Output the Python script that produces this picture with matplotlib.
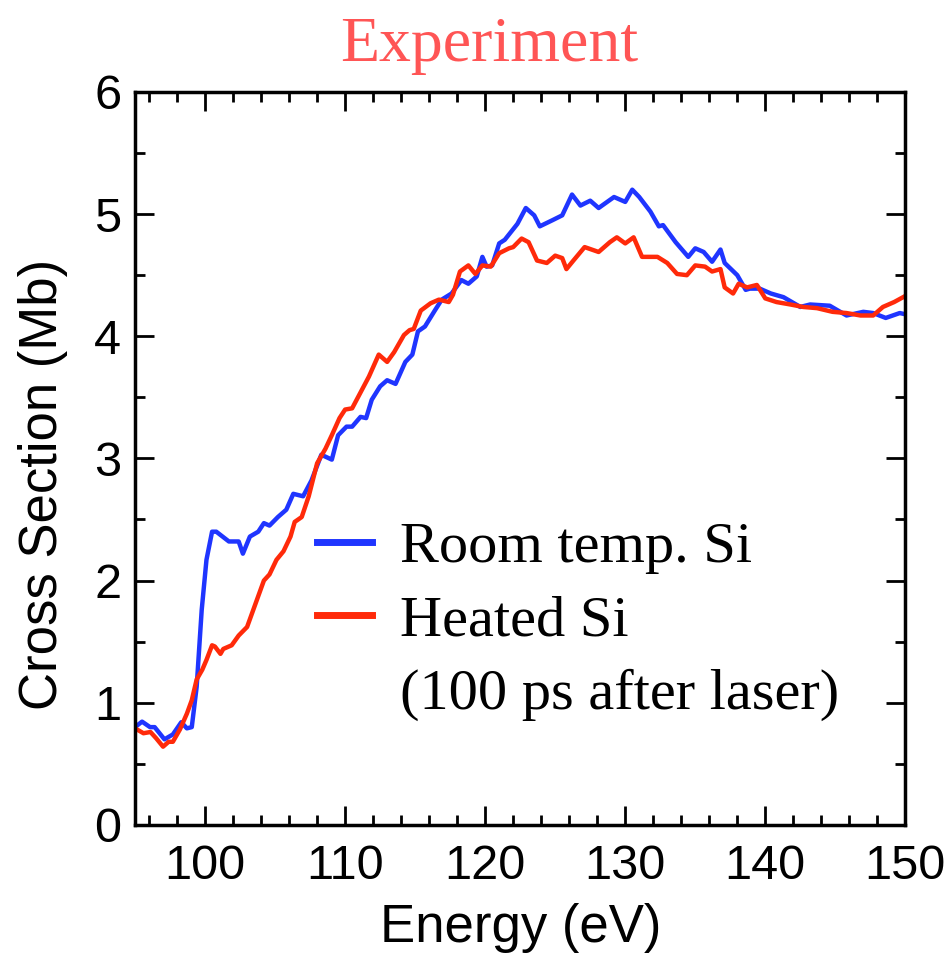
import matplotlib
matplotlib.use("Agg")
import matplotlib.pyplot as plt
from matplotlib.lines import Line2D
from matplotlib.ticker import MultipleLocator

# Room temperature Si (blue)
room_energy = [95.0, 95.5, 96.07, 96.4, 97.1, 97.7, 98.3, 98.7, 99.05, 99.4,
               99.76, 100.1, 100.5, 100.8, 101.7, 102.4, 102.7, 103.2, 103.8, 104.2,
               104.6, 105.2, 105.8, 106.3, 107.0, 107.6, 108.3, 109.05, 109.5, 110.1,
               110.5, 111.1, 111.5, 111.9, 112.5, 113.0, 113.6, 114.3, 114.8, 115.2,
               115.7, 116.4, 116.9, 117.6, 118.3, 118.8, 119.4, 119.8, 120.1, 120.5,
               121.0, 121.4, 122.3, 122.9, 123.5, 123.9, 124.8, 125.5, 126.2, 126.8,
               127.5, 128.1, 129.2, 130.0, 130.5, 131.0, 131.8, 132.4, 132.7, 133.6,
               134.5, 135.0, 135.6, 136.2, 136.8, 137.1, 138.0, 138.6, 138.9, 139.6,
               140.4, 141.3, 142.5, 143.2, 144.6, 145.8, 147.0, 147.7, 148.6, 149.6,
               150.0]
room_xs = [0.80, 0.845, 0.80, 0.80, 0.70, 0.74, 0.84, 0.79, 0.80, 1.13,
           1.76, 2.17, 2.40, 2.40, 2.32, 2.32, 2.22, 2.36, 2.40, 2.47,
           2.45, 2.52, 2.58, 2.71, 2.69, 2.82, 3.03, 2.99, 3.19, 3.26,
           3.26, 3.34, 3.33, 3.48, 3.59, 3.64, 3.61, 3.79, 3.85, 4.04,
           4.08, 4.21, 4.30, 4.35, 4.46, 4.43, 4.49, 4.65, 4.57, 4.58,
           4.76, 4.79, 4.92, 5.05, 4.99, 4.90, 4.95, 4.99, 5.16, 5.07,
           5.11, 5.05, 5.14, 5.10, 5.20, 5.14, 5.02, 4.90, 4.91, 4.77,
           4.65, 4.72, 4.69, 4.61, 4.71, 4.60, 4.50, 4.38, 4.39, 4.39,
           4.35, 4.32, 4.24, 4.26, 4.25, 4.17, 4.20, 4.19, 4.15, 4.19,
           4.18]

# Heated Si, 100 ps after laser (red)
heated_energy = [95.0, 95.6, 96.1, 96.5, 97.0, 97.4, 97.7, 98.2, 98.7, 99.05,
                 99.4, 99.8, 100.1, 100.5, 100.7, 101.1, 101.3, 101.9, 102.4, 103.0,
                 103.6, 104.2, 104.6, 105.1, 105.6, 106.1, 106.4, 106.9, 107.4, 108.0,
                 108.6, 109.05, 109.6, 110.0, 110.5, 111.1, 111.7, 112.4, 113.0, 113.5,
                 114.2, 114.6, 114.9, 115.4, 116.1, 116.7, 117.4, 117.7, 118.2, 118.8,
                 119.3, 119.8, 120.4, 121.0, 121.7, 122.0, 122.6, 123.1, 123.7, 124.4,
                 125.0, 125.5, 125.8, 126.3, 127.1, 128.1, 128.9, 129.4, 130.0, 130.6,
                 131.2, 132.3, 133.0, 133.7, 134.4, 135.0, 135.7, 136.2, 136.8, 137.1,
                 137.7, 138.1, 138.7, 139.4, 140.0, 140.8, 141.8, 142.7, 143.7, 144.8,
                 145.8, 146.8, 147.7, 148.4, 149.2, 150.0]
heated_xs = [0.79, 0.75, 0.76, 0.71, 0.64, 0.68, 0.68, 0.78, 0.91, 1.02,
             1.19, 1.27, 1.35, 1.47, 1.46, 1.40, 1.44, 1.47, 1.55, 1.62,
             1.81, 2.00, 2.05, 2.17, 2.24, 2.36, 2.48, 2.52, 2.69, 2.96,
             3.08, 3.19, 3.33, 3.40, 3.41, 3.54, 3.67, 3.85, 3.79, 3.87,
             4.01, 4.05, 4.06, 4.21, 4.27, 4.30, 4.28, 4.34, 4.53, 4.58,
             4.51, 4.58, 4.57, 4.68, 4.72, 4.73, 4.80, 4.77, 4.62, 4.60,
             4.66, 4.64, 4.55, 4.62, 4.73, 4.69, 4.77, 4.81, 4.76, 4.81,
             4.65, 4.65, 4.60, 4.51, 4.50, 4.58, 4.57, 4.53, 4.55, 4.40,
             4.35, 4.43, 4.40, 4.42, 4.31, 4.28, 4.26, 4.24, 4.23, 4.20,
             4.19, 4.17, 4.17, 4.24, 4.28, 4.33]

blue = "#1f35ff"
red = "#ff2a0a"
sans = "Liberation Sans"
serif = "Liberation Serif"

fig = plt.figure(figsize=(9.51, 9.58), dpi=100)
ax = fig.add_axes([0.142, 0.139, 0.810, 0.765])

ax.plot(room_energy, room_xs, color=blue, lw=3.2)
ax.plot(heated_energy, heated_xs, color=red, lw=3.2)

ax.set_xlim(95, 150)
ax.set_ylim(0, 6)
ax.xaxis.set_major_locator(MultipleLocator(10))
ax.xaxis.set_minor_locator(MultipleLocator(2))
ax.yaxis.set_major_locator(MultipleLocator(1))
ax.yaxis.set_minor_locator(MultipleLocator(0.5))
ax.tick_params(which="both", direction="in", top=True, right=True, width=2,
               labelsize=35)
ax.tick_params(axis="x", pad=14)
ax.tick_params(axis="y", pad=10)
ax.tick_params(which="major", length=14)
ax.tick_params(which="minor", length=7)
for lbl in ax.get_xticklabels() + ax.get_yticklabels():
    lbl.set_fontfamily(sans)
for sp in ax.spines.values():
    sp.set_linewidth(2.5)

ax.set_xlabel("Energy (eV)", fontsize=38, family=sans, labelpad=10)
ax.set_ylabel("Cross Section (Mb)", fontsize=38, family=sans)
ax.yaxis.set_label_coords(-0.087, 0.465)
ax.set_title("Experiment", fontsize=46, family=serif, color="#ff5555",
             x=0.46, pad=22)

handles = [Line2D([], [], color=blue, lw=5),
           Line2D([], [], color=red, lw=5),
           Line2D([], [], color="none")]
labels = ["Room temp. Si", "Heated Si", "(100 ps after laser)"]
ax.legend(handles, labels, loc="upper left", bbox_to_anchor=(0.236, 0.414),
          frameon=False, handlelength=0.95, handletextpad=0.48, labelspacing=0.35,
          prop={"family": serif, "size": 42}, borderaxespad=0, borderpad=0)

fig.savefig("out.png", dpi=100)
